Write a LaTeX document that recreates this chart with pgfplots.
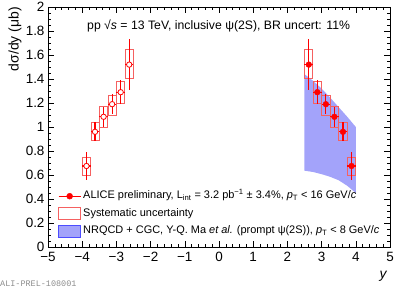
\documentclass[border=0pt]{standalone}
\usepackage{fontspec}
\setmainfont{Liberation Sans}
\setmonofont{Liberation Mono}
\usepackage{pgfplots}
\pgfplotsset{compat=1.18}
\definecolor{bandcol}{rgb}{0.64,0.64,0.98}
\definecolor{bandedge}{rgb}{0.3,0.3,1}
\definecolor{syscol}{rgb}{0.96,0.38,0.38}
\definecolor{ptred}{rgb}{1,0,0}
\pgfplotstableread{
x y ex ey
-3.875 0.675 0.125 0.115
-3.625 0.96 0.125 0.08
-3.375 1.085 0.125 0.085
-3.125 1.19 0.125 0.085
-2.875 1.29 0.125 0.10
-2.625 1.52 0.125 0.21
}\tabback
\pgfplotstableread{
x y ex ey
2.625 1.52 0.125 0.21
2.875 1.29 0.125 0.10
3.125 1.19 0.125 0.085
3.375 1.085 0.125 0.085
3.625 0.96 0.125 0.08
3.875 0.675 0.125 0.115
}\tabfwd
\pgfplotsset{sysbox/.style={draw=syscol, fill=none, mark=none, line width=0.8pt, forget plot}}
\begin{document}
\begin{tikzpicture}
\path[use as bounding box] (0,0) rectangle (399bp,289bp);
\begin{axis}[
  at={(48bp,42bp)}, anchor=south west,
  scale only axis, width=342bp, height=240bp,
  xmin=-5, xmax=5, ymin=0, ymax=2,
  xtick={-5,-4,-3,-2,-1,0,1,2,3,4,5},
  xticklabels={−5,−4,−3,−2,−1,0,1,2,3,4,5},
  ytick={0,0.2,0.4,0.6,0.8,1,1.2,1.4,1.6,1.8,2},
  yticklabels={0,0.2,0.4,0.6,0.8,1,1.2,1.4,1.6,1.8,2},
  minor x tick num=4, minor y tick num=3,
  tick align=inside, tick pos=both,
  major tick length=6bp, minor tick length=3bp,
  ticklabel style={font=\fontsize{13.5}{16}\selectfont},
  xticklabel style={yshift=-2bp},
  axis line style={line width=0.7pt},
  major tick style={line width=0.6pt, black},
  minor tick style={line width=0.6pt, black},
  legend style={at={(axis cs:-4.71,0.4875)}, anchor=north west, draw=none, fill=none,
    inner sep=0pt, row sep=2.5bp,
    font=\fontsize{11}{13}\selectfont,
    nodes={inner sep=2bp, text height=8bp, text depth=3bp}},
  legend cell align=left,
]
% theory band
\addplot[fill=bandcol, draw=none, forget plot] coordinates {
  (2.5,1.44) (2.75,1.385) (3.0,1.32) (3.25,1.245) (3.5,1.165) (3.75,1.085) (4.0,1.0)
  (4.0,0.45) (3.75,0.51) (3.5,0.556) (3.25,0.585) (3.0,0.607) (2.75,0.625) (2.5,0.636)
} -- cycle;
% systematic boxes
\addplot[sysbox] coordinates {(-3.995,0.60) (-3.755,0.60) (-3.755,0.75) (-3.995,0.75)} -- cycle;
\addplot[sysbox] coordinates {(-3.745,0.885) (-3.505,0.885) (-3.505,1.04) (-3.745,1.04)} -- cycle;
\addplot[sysbox] coordinates {(-3.495,1.0) (-3.255,1.0) (-3.255,1.17) (-3.495,1.17)} -- cycle;
\addplot[sysbox] coordinates {(-3.245,1.10) (-3.005,1.10) (-3.005,1.26) (-3.245,1.26)} -- cycle;
\addplot[sysbox] coordinates {(-2.995,1.20) (-2.755,1.20) (-2.755,1.38) (-2.995,1.38)} -- cycle;
\addplot[sysbox] coordinates {(-2.745,1.405) (-2.505,1.405) (-2.505,1.645) (-2.745,1.645)} -- cycle;
\addplot[sysbox] coordinates {(2.505,1.405) (2.745,1.405) (2.745,1.645) (2.505,1.645)} -- cycle;
\addplot[sysbox] coordinates {(2.755,1.20) (2.995,1.20) (2.995,1.38) (2.755,1.38)} -- cycle;
\addplot[sysbox] coordinates {(3.005,1.10) (3.245,1.10) (3.245,1.26) (3.005,1.26)} -- cycle;
\addplot[sysbox] coordinates {(3.255,1.0) (3.495,1.0) (3.495,1.17) (3.255,1.17)} -- cycle;
\addplot[sysbox] coordinates {(3.505,0.885) (3.745,0.885) (3.745,1.04) (3.505,1.04)} -- cycle;
\addplot[sysbox] coordinates {(3.755,0.60) (3.995,0.60) (3.995,0.75) (3.755,0.75)} -- cycle;
% data points
\addplot[ptred, only marks, mark=*, mark size=2.7bp,
  mark options={draw=ptred, fill=white, line width=0.8pt},
  forget plot,
  error bars/.cd, x dir=both, x explicit, y dir=both, y explicit, error mark=none,
  error bar style={ptred, line width=1.1pt}]
  table[x=x, y=y, x error=ex, y error=ey] {\tabback};
\addplot[ptred, only marks, mark=*, mark size=2.9bp,
  mark options={draw=ptred, fill=ptred},
  forget plot,
  error bars/.cd, x dir=both, x explicit, y dir=both, y explicit, error mark=none,
  error bar style={ptred, line width=1.1pt}]
  table[x=x, y=y, x error=ex, y error=ey] {\tabfwd};
% legend
\addlegendimage{legend image code/.code={
  \draw[ptred, line width=1.1pt] (0bp,0bp) -- (22bp,0bp);
  \fill[ptred] (11bp,0bp) circle (3bp);}}
\addlegendentry{ALICE preliminary, L\textsubscript{int} = 3.2 pb\textsuperscript{−1} ± 3.4\%, \textit{p}\textsubscript{T} < 16 GeV/\textit{c}}
\addlegendimage{legend image code/.code={
  \draw[syscol, line width=0.8pt] (0bp,-6bp) rectangle (22bp,6bp);}}
\addlegendentry{Systematic uncertainty}
\addlegendimage{legend image code/.code={
  \draw[bandedge, fill=bandcol, line width=0.8pt] (0bp,-6bp) rectangle (22bp,6bp);}}
\addlegendentry{NRQCD + CGC, Y-Q. Ma \textit{et al.} (prompt ψ(2S)), \textit{p}\textsubscript{T} < 8 GeV/\textit{c}}
\end{axis}
\node[anchor=west, inner sep=0pt, font=\fontsize{12.3}{14}\selectfont] at (87bp,263bp)
  {pp √\textit{s} = 13 TeV, inclusive ψ(2S), BR uncert: 11\%};
\node[rotate=90, anchor=east, inner sep=0pt, font=\fontsize{14}{16}\selectfont] at (15bp,282bp)
  {dσ/dy (μb)};
\node[inner sep=0pt, font=\fontsize{14}{16}\selectfont\itshape] at (383bp,13bp) {y};
\node[anchor=west, inner sep=0pt, text=black!45, font=\fontsize{8.5}{10}\ttfamily] at (0bp,5bp)
  {ALI-PREL-108001};
\end{tikzpicture}
\end{document}
